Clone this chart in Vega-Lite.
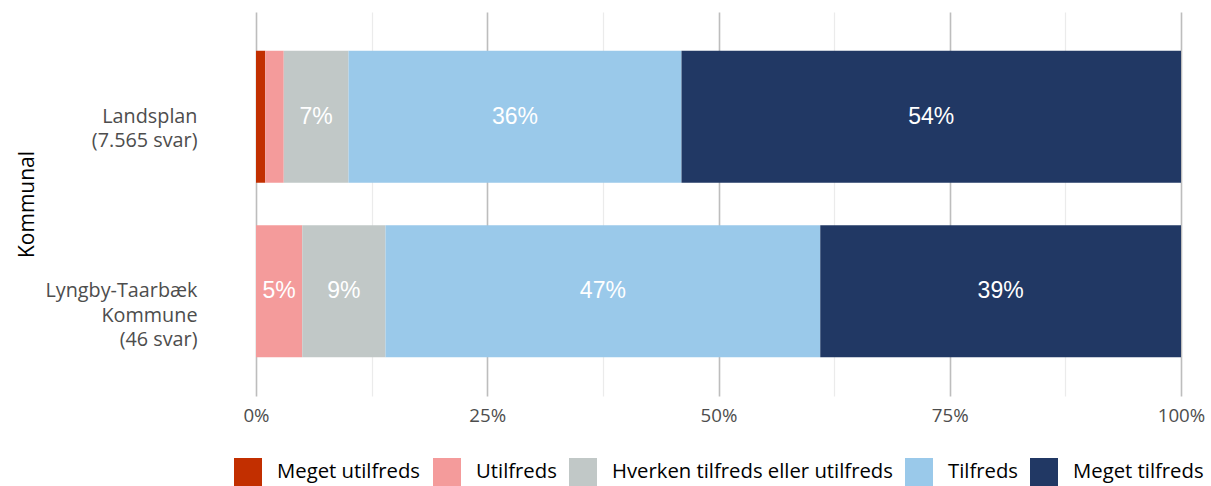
{
  "$schema": "https://vega.github.io/schema/vega-lite/v6.json",
  "width": 925,
  "height": 384,
  "autosize": "none",
  "padding": {"left": 256, "top": 12, "right": 30, "bottom": 90},
  "background": "white",
  "config": {"view": {"stroke": null}, "font": "Open Sans"},
  "data": {
    "values": [
      {"grp": "Landsplan|(7.565 svar)", "cat": "Meget utilfreds", "ord": 1, "value": 1},
      {"grp": "Landsplan|(7.565 svar)", "cat": "Utilfreds", "ord": 2, "value": 2},
      {"grp": "Landsplan|(7.565 svar)", "cat": "Hverken tilfreds eller utilfreds", "ord": 3, "value": 7},
      {"grp": "Landsplan|(7.565 svar)", "cat": "Tilfreds", "ord": 4, "value": 36},
      {"grp": "Landsplan|(7.565 svar)", "cat": "Meget tilfreds", "ord": 5, "value": 54},
      {"grp": "Lyngby-Taarbæk|Kommune |(46 svar)", "cat": "Meget utilfreds", "ord": 1, "value": 0},
      {"grp": "Lyngby-Taarbæk|Kommune |(46 svar)", "cat": "Utilfreds", "ord": 2, "value": 5},
      {"grp": "Lyngby-Taarbæk|Kommune |(46 svar)", "cat": "Hverken tilfreds eller utilfreds", "ord": 3, "value": 9},
      {"grp": "Lyngby-Taarbæk|Kommune |(46 svar)", "cat": "Tilfreds", "ord": 4, "value": 47},
      {"grp": "Lyngby-Taarbæk|Kommune |(46 svar)", "cat": "Meget tilfreds", "ord": 5, "value": 39}
    ]
  },
  "transform": [
    {"stack": "value", "groupby": ["grp"], "sort": [{"field": "ord", "order": "ascending"}], "as": ["v0", "v1"]},
    {"calculate": "(datum.v0 + datum.v1) / 2", "as": "mid"},
    {"calculate": "datum.value + '%'", "as": "lbl"}
  ],
  "encoding": {
    "y": {
      "field": "grp",
      "type": "nominal",
      "sort": ["Landsplan|(7.565 svar)", "Lyngby-Taarbæk|Kommune |(46 svar)"],
      "scale": {"paddingInner": 0.244, "paddingOuter": 0.222},
      "axis": {
        "labelExpr": "split(datum.value, '|')",
        "labelAlign": "right",
        "labelFontSize": 19.8,
        "labelColor": "#4d4d4d",
        "labelLineHeight": 24.5,
        "labelPadding": 59,
        "ticks": false,
        "domain": false,
        "grid": false,
        "title": "Kommunal",
        "titleFontSize": 21,
        "titleFontWeight": "normal",
        "titleColor": "#000000",
        "titlePadding": 19
      }
    }
  },
  "layer": [
    {
      "mark": {"type": "bar"},
      "encoding": {
        "x": {
          "field": "v0",
          "type": "quantitative",
          "scale": {"domain": [0, 100], "nice": false},
          "axis": {
            "values": [0, 25, 50, 75, 100],
            "labelExpr": "datum.value + '%'",
            "labelFontSize": 18.7,
            "labelColor": "#4d4d4d",
            "labelFlush": false,
            "labelPadding": 10,
            "ticks": false,
            "domain": false,
            "grid": true,
            "gridColor": "#bdbdbd",
            "gridWidth": 1.6,
            "title": null
          }
        },
        "x2": {"field": "v1"},
        "color": {
          "field": "cat",
          "type": "nominal",
          "scale": {
            "domain": ["Meget utilfreds", "Utilfreds", "Hverken tilfreds eller utilfreds", "Tilfreds", "Meget tilfreds"],
            "range": ["#c22f00", "#f49b9b", "#c1c8c7", "#9ac9ea", "#213864"]
          },
          "legend": {
            "title": null,
            "orient": "none",
            "legendX": -22,
            "legendY": 446,
            "direction": "horizontal",
            "columns": 5,
            "columnPadding": 12,
            "symbolType": "square",
            "symbolSize": 784,
            "symbolStrokeWidth": 0,
            "labelFontSize": 20.3,
            "labelColor": "#000000",
            "labelOffset": 15,
            "labelLimit": 400
          }
        }
      }
    },
    {
      "transform": [{"filter": "datum.value >= 3"}],
      "mark": {"type": "text", "color": "white", "font": "Liberation Sans", "fontSize": 23},
      "encoding": {
        "x": {
          "field": "mid",
          "type": "quantitative",
          "scale": {"domain": [0, 100], "nice": false},
          "axis": {
            "orient": "top",
            "values": [12.5, 37.5, 62.5, 87.5],
            "labels": false,
            "ticks": false,
            "domain": false,
            "grid": true,
            "gridColor": "#ebebeb",
            "gridWidth": 1.2,
            "title": null
          }
        },
        "text": {"field": "lbl"}
      }
    }
  ],
  "resolve": {"axis": {"x": "independent"}}
}
